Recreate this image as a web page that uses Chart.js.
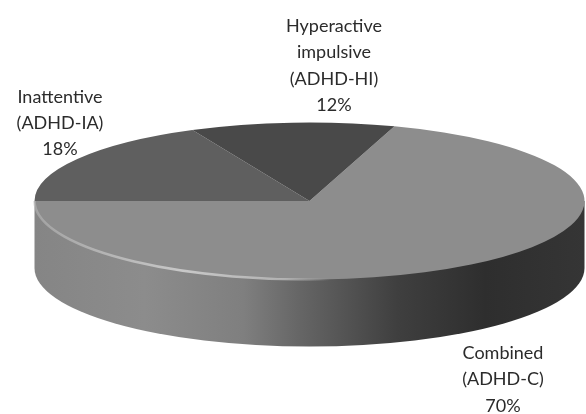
<!DOCTYPE html>
<html>
<head>
<meta charset="utf-8">
<title>ADHD subtypes</title>
<style>
  html, body { margin: 0; padding: 0; background: #fff; }
  canvas { display: block; filter: blur(0.7px); }
</style>
<script src="https://cdn.jsdelivr.net/npm/chart.js@4"></script>
</head>
<body>
<canvas id="adhdPie" width="586" height="414"></canvas>
<script>
  // Chart data
  const categories = ['Combined', 'Inattentive', 'Hyperactive impulsive'];
  const shares = [70, 18, 12];
  const labelLines = [
      ['Combined', '(ADHD-C)', '70%'],
      ['Inattentive', '(ADHD-IA)', '18%'],
      ['Hyperactive', 'impulsive', '(ADHD-HI)', '12%']
  ];
  const sliceColors = ['#8d8d8d', '#5f5f5f', '#494949'];

  // Where the tilted disc sits on the page
  const disc = { x: 309.5, y: 201, rx: 275, ry: 78.5, depth: 67 };
  const labelSpots = [
      { x: 503, y: 353, gap: 26.5 },
      { x: 60, y: 97, gap: 26 },
      { x: 334, y: 26, gap: 26.5 }
  ];

  // Tilts the flat pie and draws the rim under it
  const tiltPlugin = {
      id: 'tilt',
      beforeDatasetsDraw(chart) {
          const ctx = chart.ctx;
          const arc = chart.getDatasetMeta(0).data[0];

          const rim = ctx.createLinearGradient(disc.x - disc.rx, 0, disc.x + disc.rx, 0);
          rim.addColorStop(0, '#858585');
          rim.addColorStop(0.2, '#8c8c8c');
          rim.addColorStop(0.38, '#7f7f7f');
          rim.addColorStop(0.48, '#666666');
          rim.addColorStop(0.66, '#3f3f3f');
          rim.addColorStop(0.82, '#2e2e2e');
          rim.addColorStop(1, '#353535');

          ctx.save();
          ctx.beginPath();
          ctx.ellipse(disc.x, disc.y + disc.depth, disc.rx, disc.ry, 0, 0, Math.PI);
          ctx.lineTo(disc.x - disc.rx, disc.y);
          ctx.lineTo(disc.x + disc.rx, disc.y);
          ctx.closePath();
          ctx.fillStyle = rim;
          ctx.fill();
          ctx.restore();

          ctx.save();
          ctx.translate(disc.x, disc.y);
          ctx.scale(disc.rx / arc.outerRadius, disc.ry / arc.outerRadius);
          ctx.translate(-arc.x, -arc.y);
      },
      afterDatasetsDraw(chart) {
          const ctx = chart.ctx;
          ctx.restore();

          // pale edge along the front left of the top face
          const glint = ctx.createLinearGradient(disc.x - disc.rx, 0, disc.x + 20, 0);
          glint.addColorStop(0, 'rgba(190, 190, 190, 0.5)');
          glint.addColorStop(0.5, 'rgba(200, 200, 200, 1)');
          glint.addColorStop(0.85, 'rgba(190, 190, 190, 0.8)');
          glint.addColorStop(1, 'rgba(185, 185, 185, 0)');
          ctx.save();
          ctx.beginPath();
          ctx.ellipse(disc.x, disc.y, disc.rx, disc.ry, 0, Math.PI * 0.47, Math.PI);
          ctx.strokeStyle = glint;
          ctx.lineWidth = 2.5;
          ctx.stroke();
          ctx.restore();
      },
      afterDraw(chart) {
          const ctx = chart.ctx;
          ctx.save();
          ctx.font = '18px Lato';
          ctx.fillStyle = '#2b2b2b';
          ctx.textAlign = 'center';
          ctx.textBaseline = 'middle';
          labelLines.forEach((lines, i) => {
              const spot = labelSpots[i];
              lines.forEach((line, n) => ctx.fillText(line, spot.x, spot.y + n * spot.gap));
          });
          ctx.restore();
      }
  };

  new Chart(document.getElementById('adhdPie').getContext('2d'), {
      type: 'pie',
      data: {
          labels: categories,
          datasets: [{
              data: shares,
              backgroundColor: sliceColors,
              borderWidth: 0
          }]
      },
      options: {
          responsive: false,
          animation: false,
          events: [],
          rotation: 18,
          layout: { padding: 0 },
          plugins: {
              legend: { display: false },
              tooltip: { enabled: false }
          }
      },
      plugins: [tiltPlugin]
  });
</script>
</body>
</html>
